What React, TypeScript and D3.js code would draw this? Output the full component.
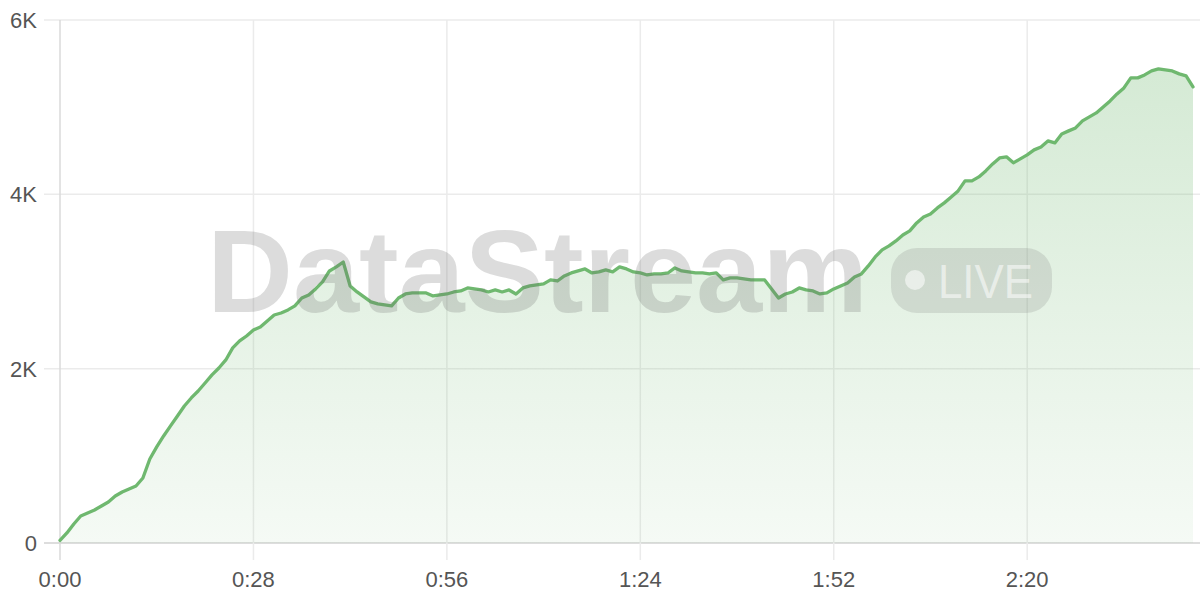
import React from "react";
import * as d3 from "d3";

// seconds since start (one sample per second)
const seconds: number[] = Array.from({ length: 165 }, (_, i) => i);

// viewer count per second
const viewers: number[] = [
  30, 115, 218, 310, 344, 379, 425, 470, 539, 585,
  620, 654, 746, 964, 1102, 1228, 1343, 1457, 1572, 1664,
  1744, 1836, 1928, 2008, 2100, 2238, 2318, 2375, 2444, 2478,
  2547, 2616, 2639, 2674, 2720, 2811, 2846, 2915, 2995, 3121,
  3167, 3224, 2949, 2880, 2823, 2766, 2743, 2731, 2720, 2811,
  2857, 2869, 2869, 2869, 2834, 2846, 2857, 2880, 2892, 2926,
  2915, 2903, 2880, 2903, 2880, 2903, 2857, 2926, 2949, 2961,
  2972, 3018, 3006, 3064, 3098, 3121, 3144, 3098, 3110, 3133,
  3110, 3167, 3144, 3110, 3098, 3075, 3087, 3087, 3098, 3156,
  3121, 3110, 3098, 3098, 3087, 3098, 3018, 3041, 3041, 3029,
  3018, 3018, 3018, 2915, 2811, 2857, 2880, 2926, 2903, 2892,
  2857, 2869, 2915, 2949, 2984, 3052, 3087, 3179, 3282, 3362,
  3408, 3466, 3534, 3580, 3672, 3741, 3775, 3844, 3902, 3970,
  4039, 4154, 4154, 4200, 4269, 4349, 4418, 4430, 4361, 4407,
  4452, 4510, 4544, 4613, 4590, 4693, 4728, 4762, 4842, 4888,
  4934, 5003, 5072, 5152, 5221, 5336, 5336, 5370, 5416, 5439,
  5428, 5416, 5382, 5359, 5233,
];

const xTicks: number[] = [0, 28, 56, 84, 112, 140];
const yTicks: number[] = [0, 2000, 4000, 6000];
const yTickLabels: string[] = ["0", "2K", "4K", "6K"];
const watermarkText = "DataStream";
const badgeText = "LIVE";

const W = 1200;
const H = 600;
const FONT = "'Liberation Sans', Arial, Helvetica, sans-serif";

export default function App() {
  const x = d3.scaleLinear().domain([0, 164]).range([60, 1193]);
  const y = d3.scaleLinear().domain([0, 6000]).range([543, 20]);

  const pts: [number, number][] = seconds.map((s, i) => [s, viewers[i]]);

  const line = d3
    .line<[number, number]>()
    .x((d) => x(d[0]))
    .y((d) => y(d[1]))
    .curve(d3.curveLinear);

  const area = d3
    .area<[number, number]>()
    .x((d) => x(d[0]))
    .y0(y(0))
    .y1((d) => y(d[1]))
    .curve(d3.curveLinear);

  const fmt = (s: number) => `${Math.floor(s / 60)}:${String(s % 60).padStart(2, "0")}`;

  return (
    <svg
      width={W}
      height={H}
      style={{ position: "absolute", left: 0, top: 0, display: "block", background: "#fff" }}
    >
      <defs>
        <linearGradient id="areaGrad" gradientUnits="userSpaceOnUse" x1="0" y1={y(6000)} x2="0" y2={y(0)}>
          <stop offset="0%" stopColor="#70b870" stopOpacity={0.32} />
          <stop offset="100%" stopColor="#70b870" stopOpacity={0.07} />
        </linearGradient>
      </defs>

      {/* horizontal grid */}
      {yTicks.map((t) => (
        <line
          key={"hy" + t}
          x1={44}
          x2={W}
          y1={y(t)}
          y2={y(t)}
          stroke={t === 0 ? "#d2d2d2" : "#ebebeb"}
          strokeWidth={1.5}
        />
      ))}
      {/* vertical grid */}
      {xTicks.map((t) => (
        <line
          key={"vx" + t}
          x1={x(t)}
          x2={x(t)}
          y1={y(6000)}
          y2={560}
          stroke={t === 0 ? "#dadada" : "#ebebeb"}
          strokeWidth={1.5}
        />
      ))}

      <path d={area(pts) || ""} fill="url(#areaGrad)" />
      <path
        d={line(pts) || ""}
        fill="none"
        stroke="#6fb86f"
        strokeWidth={3.3}
        strokeLinejoin="round"
        strokeLinecap="round"
      />

      {/* watermark */}
      <g>
        <text
          x={207}
          y={312}
          fontFamily={FONT}
          fontWeight={700}
          fontSize={117}
          fill="rgb(110,110,110)"
          fillOpacity={0.24}
          textLength={661}
          lengthAdjust="spacingAndGlyphs"
        >
          {watermarkText}
        </text>
        <rect x={891} y={248} width={161} height={65} rx={26} fill="rgb(110,110,110)" fillOpacity={0.18} />
        <circle cx={915} cy={280} r={10} fill="#ffffff" fillOpacity={0.55} />
        <text
          x={938}
          y={298}
          fontFamily={FONT}
          fontSize={48}
          fill="#ffffff"
          fillOpacity={0.55}
          textLength={95}
          lengthAdjust="spacingAndGlyphs"
        >
          {badgeText}
        </text>
      </g>

      {/* y labels */}
      {yTicks.map((t, i) => (
        <text
          key={"yl" + t}
          x={37}
          y={y(t)}
          dy="0.36em"
          textAnchor="end"
          fontFamily={FONT}
          fontSize={22}
          fill="#555"
        >
          {yTickLabels[i]}
        </text>
      ))}
      {/* x labels */}
      {xTicks.map((t) => (
        <text
          key={"xl" + t}
          x={x(t)}
          y={587}
          textAnchor="middle"
          fontFamily={FONT}
          fontSize={22}
          fill="#555"
        >
          {fmt(t)}
        </text>
      ))}
    </svg>
  );
}
